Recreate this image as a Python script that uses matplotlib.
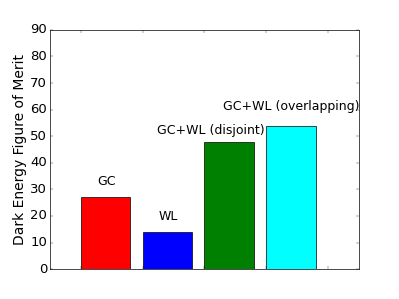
import matplotlib
matplotlib.use("Agg")
import matplotlib.pyplot as plt

plt.style.use("classic")

categories = ["GC", "WL", "GC+WL (disjoint)", "GC+WL (overlapping)"]
values = [27, 14, 48, 54]
colors = ["red", "blue", "green", "cyan"]
label_x = [0.41, 1.42, 2.11, 3.40]
label_y = [31.8, 18.5, 51.0, 60.0]

fig = plt.figure(figsize=(7.98, 5.98), dpi=50, facecolor="white")
ax = fig.add_subplot(111)
ax.bar(range(len(values)), values, width=0.8, color=colors, align="edge")
for x, y, t in zip(label_x, label_y, categories):
    ax.text(x, y, t, ha="center", va="baseline", fontsize=18)
ax.set_xlim(-0.5, 4.5)
ax.set_ylim(0, 90)
ax.set_xticks(range(5))
ax.set_xticklabels([])
ax.set_yticks(range(0, 91, 10))
ax.tick_params(labelsize=19)
ax.set_ylabel("Dark Energy Figure of Merit", fontsize=20)
fig.savefig("out.png", dpi=50, facecolor="white")
